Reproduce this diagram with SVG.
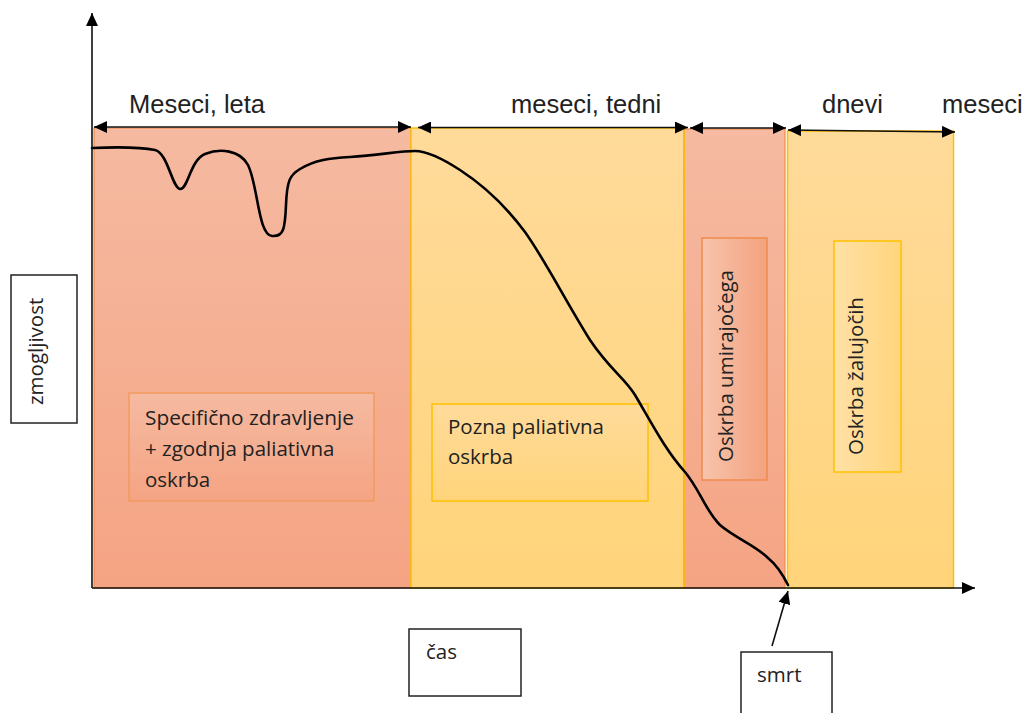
<svg xmlns="http://www.w3.org/2000/svg" width="1026" height="713" viewBox="0 0 1026 713">
<style>
.lab{font-family:"Liberation Sans",Arial,sans-serif;font-size:25.5px;fill:#222}
.t{font-family:"Open Sans","Noto Sans",sans-serif;font-size:20.5px;fill:#222}
.box{fill:#fff;stroke:#222;stroke-width:1.5}
.ar{stroke:#111;stroke-width:1.6;fill:none}
</style>
<defs>
<linearGradient id="sal" x1="0" y1="0" x2="0" y2="1"><stop offset="0" stop-color="#F5BAA1"/><stop offset="1" stop-color="#F5A483"/></linearGradient>
<linearGradient id="yel" x1="0" y1="0" x2="0" y2="1"><stop offset="0" stop-color="#FFDB9B"/><stop offset="1" stop-color="#FFD47A"/></linearGradient>
<linearGradient id="salh" x1="0" y1="0" x2="1" y2="0"><stop offset="0" stop-color="#F7C4AC"/><stop offset="1" stop-color="#F3A27F"/></linearGradient>
<linearGradient id="yelh" x1="0" y1="0" x2="1" y2="0"><stop offset="0" stop-color="#FFE1A6"/><stop offset="1" stop-color="#FFD57C"/></linearGradient>
<marker id="ah" markerWidth="13" markerHeight="12" refX="13" refY="6" orient="auto-start-reverse" markerUnits="userSpaceOnUse"><path d="M0,0 L13,6 L0,12 z" fill="#000"/></marker>
</defs>
<rect width="1026" height="713" fill="#fff"/>

<g id="region-1"><rect x="94" y="128" width="317" height="460" fill="url(#sal)" stroke="#F08A4B" stroke-width="1.2"/></g>
<g id="region-2"><rect x="411" y="128" width="273" height="460" fill="url(#yel)" stroke="#FFC000" stroke-width="1.5"/></g>
<g id="region-3"><rect x="684" y="129" width="101" height="459" fill="url(#sal)" stroke="#F08A4B" stroke-width="1.2"/><line x1="684" y1="129" x2="684" y2="588" stroke="#FFC000" stroke-width="1.5"/></g>
<g id="region-4"><rect x="787.5" y="131" width="166" height="457" fill="url(#yel)" stroke="#FFC000" stroke-width="1.5"/></g>

<g id="node-specificno"><rect x="129" y="393" width="245" height="108" fill="url(#sal)" stroke="#F19A5E" stroke-width="1.5"/>
<text class="t" x="145" y="425" textLength="209" lengthAdjust="spacingAndGlyphs">Specifično zdravljenje</text><text class="t" x="145" y="456">+ zgodnja paliativna</text><text class="t" x="145" y="487">oskrba</text></g>
<g id="node-pozna"><rect x="432" y="404" width="216" height="97" fill="url(#yel)" stroke="#FFC000" stroke-width="1.5"/>
<text class="t" x="448" y="434">Pozna paliativna</text><text class="t" x="448" y="464">oskrba</text></g>
<g id="node-umirajocega"><rect x="702" y="238" width="65" height="242" fill="url(#salh)" stroke="#F08B4C" stroke-width="1.5"/>
<text class="t" transform="translate(733,462) rotate(-90)">Oskrba umirajočega</text></g>
<g id="node-zalujocih"><rect x="834" y="241" width="67" height="231" fill="url(#yelh)" stroke="#FFC000" stroke-width="1.5"/>
<text class="t" transform="translate(863,455) rotate(-90)">Oskrba žalujočih</text></g>

<g id="node-zmogljivost"><rect class="box" x="11" y="275" width="66" height="148"/><text class="t" transform="translate(43,405) rotate(-90)">zmogljivost</text></g>
<g id="node-cas"><rect class="box" x="409" y="629" width="112" height="67"/><text class="t" x="426" y="659">čas</text></g>
<g id="node-smrt"><rect class="box" x="741" y="652" width="91" height="70"/><text class="t" x="757" y="682">smrt</text></g>

<g id="labels">
<text class="lab" x="129" y="113">Meseci, leta</text>
<text class="lab" x="511" y="113">meseci, tedni</text>
<text class="lab" x="822" y="113">dnevi</text>
<text class="lab" x="942" y="113">meseci</text>
</g>

<g id="curve"><path d="M92,148 C115,147 140,147 155,150 C168,153 172,188 180,189 C188,190 190,160 205,154 C220,148 240,150 248,165 C258,185 258,235 272,236 C284,237 285,228 286,205 C287,180 290,175 300,169 C315,160 330,158 350,157 C380,155 400,151 415,151 C425,151 440,157 460,170 C480,183 505,205 525,232 C545,260 565,300 590,340 C610,370 625,378 635,395 C650,420 665,450 685,472 C700,490 705,510 720,525 C735,538 755,545 768,558 C778,566 783,575 788,585" fill="none" stroke="#000" stroke-width="2.6" stroke-linecap="round" stroke-linejoin="round"/></g>

<g id="connectors">
<line class="ar" x1="92" y1="588" x2="92" y2="13" marker-end="url(#ah)" stroke="#333"/>
<line class="ar" x1="92" y1="588" x2="975" y2="588" marker-end="url(#ah)"/>
<line class="ar" x1="94" y1="127" x2="411" y2="127" marker-start="url(#ah)" marker-end="url(#ah)"/>
<line class="ar" x1="418" y1="127.5" x2="688" y2="127.5" marker-start="url(#ah)" marker-end="url(#ah)"/>
<line class="ar" x1="690" y1="128" x2="786" y2="128" marker-start="url(#ah)" marker-end="url(#ah)"/>
<line class="ar" x1="788" y1="130" x2="955" y2="132" marker-start="url(#ah)" marker-end="url(#ah)"/>
<line class="ar" x1="772" y1="646" x2="788" y2="591" marker-end="url(#ah)"/>
</g>
</svg>
